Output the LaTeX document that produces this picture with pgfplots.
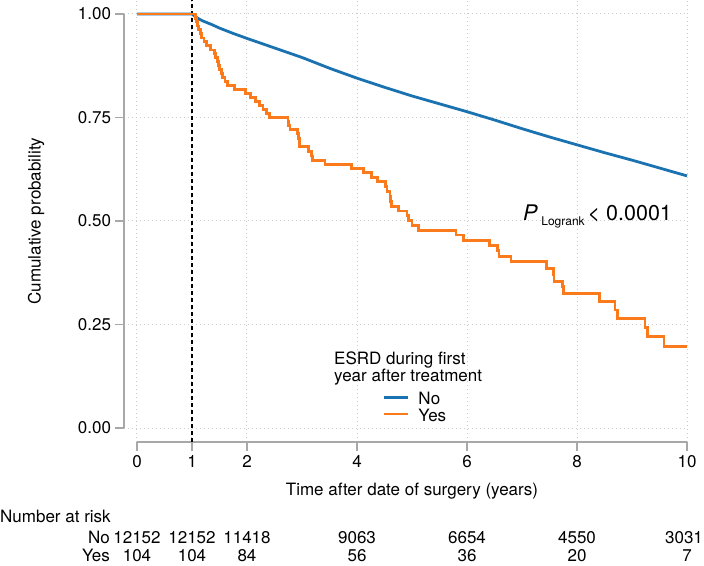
\documentclass[border=0pt]{standalone}
\usepackage{fontspec}
\setmainfont{TeX Gyre Heros}
\usepackage{pgfplots}
\usepackage{pgfplotstable}
\pgfplotsset{compat=1.18}
\definecolor{kmblue}{HTML}{1A72B0}
\definecolor{kmorange}{HTML}{FA7A1C}
\definecolor{axgray}{HTML}{A8A8A8}
\newcommand{\fs}{\fontsize{17}{20}\selectfont}

\pgfplotstableread{
x y
0 1
1 1
1.05 0.995
1.1 0.990
1.2 0.983
1.35 0.975
1.5 0.966
1.75 0.953
2 0.941
2.5 0.918
3 0.895
3.5 0.869
4 0.845
4.5 0.823
5 0.802
5.5 0.783
6 0.764
6.5 0.744
7 0.723
7.5 0.703
8 0.684
8.5 0.665
9 0.647
9.5 0.628
10 0.609
}\noesrd

\pgfplotstableread{
x y
0 1.000
1.06 0.990
1.08 0.981
1.10 0.971
1.12 0.962
1.15 0.952
1.18 0.942
1.22 0.933
1.26 0.923
1.34 0.913
1.41 0.904
1.43 0.894
1.46 0.885
1.48 0.875
1.50 0.865
1.54 0.856
1.56 0.846
1.60 0.837
1.65 0.827
1.77 0.817
1.98 0.808
2.06 0.798
2.15 0.788
2.23 0.779
2.29 0.769
2.36 0.760
2.41 0.750
2.745 0.740
2.76 0.730
2.78 0.721
2.915 0.711
2.94 0.700
2.95 0.690
2.96 0.680
3.115 0.668
3.176 0.657
3.19 0.647
3.418 0.637
3.903 0.626
4.115 0.617
4.27 0.605
4.376 0.595
4.515 0.583
4.545 0.571
4.60 0.559
4.615 0.547
4.63 0.535
4.76 0.524
4.91 0.514
4.94 0.502
5.00 0.490
5.115 0.478
5.80 0.466
5.93 0.452
6.406 0.440
6.55 0.428
6.58 0.414
6.80 0.402
7.45 0.386
7.57 0.370
7.58 0.353
7.73 0.341
7.76 0.324
8.405 0.305
8.69 0.285
8.73 0.265
9.236 0.243
9.28 0.221
9.58 0.196
10 0.196
}\yesesrd

\begin{document}
\begin{tikzpicture}
\path[use as bounding box] (-124pt,-123pt) rectangle (580pt,442pt);
\begin{axis}[
  at={(0pt,0pt)}, anchor=south west,
  scale only axis, width=563pt, height=442pt,
  xmin=-0.23636, xmax=10, ymin=-0.033816, ymax=1.033816,
  clip=false,
  axis x line*=bottom, axis y line*=left,
  axis line style={draw=none},
  xtick={0,1,2,4,6,8,10},
  ytick={0,0.25,0.5,0.75,1},
  yticklabels={0.00,0.25,0.50,0.75,1.00},
  tick align=outside,
  major tick length=9pt,
  tick style={axgray, line width=1.1pt},
  grid=major,
  major grid style={gray!40, line width=1pt, dash pattern=on 1pt off 3pt},
  /pgf/number format/assume math mode=true,
  tick label style={font=\fs},
  xticklabel style={yshift=-0.5pt},
  yticklabel style={xshift=-0.5pt},
  legend style={draw=none, fill=none, at={(0.4529,0.0769)}, anchor=west,
    font=\fs, row sep=0pt,
    nodes={inner sep=0.5pt, text height=12.5pt, text depth=3pt}},
  legend cell align=left,
  legend image code/.code={\draw[#1] (0pt,0.45ex) -- (24pt,0.45ex);},
]
% axis lines
\draw[axgray, line width=1.1pt] (axis cs:-0.23636,0) -- (axis cs:-0.23636,1);
\draw[axgray, line width=1.1pt] (axis cs:0,-0.033816) -- (axis cs:10,-0.033816);
% dashed reference at year 1
\draw[black, line width=1.3pt, dash pattern=on 4pt off 3pt] (axis cs:1,-0.033816) -- (axis cs:1,1.033816);

\addplot[kmblue, line width=2.8pt, line join=round] table[x=x,y=y] {\noesrd};
\addlegendentry{\hspace{9pt}No}
\addplot[kmorange, line width=2.8pt, const plot, line join=miter] table[x=x,y=y] {\yesesrd};
\addlegendentry{\hspace{9pt}Yes}

% legend title
\node[anchor=base west, inner sep=0pt, font=\fs] at (axis cs:3.582,0.1522) {ESRD during first};
\node[anchor=base west, inner sep=0pt, font=\fs] at (axis cs:3.582,0.1119) {year after treatment};

% p-value
\node[anchor=base west, inner sep=0pt] at (axis cs:7.018,0.5024)
  {\fontsize{21.5}{24}\selectfont\textit{P}\hspace{3.5pt}\raisebox{-5pt}{\fontsize{12}{14}\selectfont Logrank}\hspace{3pt}< 0.0001};

% axis titles
\node[rotate=90, anchor=center, font=\fs] at (axis cs:-1.836,0.5) {Cumulative probability};
\node[anchor=base, font=\fs, inner sep=0pt] at (axis cs:5,-0.164) {Time after date of surgery (years)};

% number at risk
\node[anchor=base west, inner sep=0pt, font=\fs] at (axis cs:-2.4909,-0.2283) {Number at risk};
\node[anchor=base east, inner sep=0pt, font=\fs] at (axis cs:-0.491,-0.279) {No};
\node[anchor=base east, inner sep=0pt, font=\fs] at (axis cs:-0.491,-0.3225) {Yes};
\begin{scope}[every node/.style={anchor=base, inner sep=0pt, font=\fs}]
\node at (axis cs:0,-0.279) {12152};
\node at (axis cs:1,-0.279) {12152};
\node at (axis cs:2,-0.279) {11418};
\node at (axis cs:4,-0.279) {9063};
\node at (axis cs:6,-0.279) {6654};
\node at (axis cs:8,-0.279) {4550};
\node[xshift=-3pt] at (axis cs:10,-0.279) {3031};
\node at (axis cs:0,-0.3225) {104};
\node at (axis cs:1,-0.3225) {104};
\node at (axis cs:2,-0.3225) {84};
\node at (axis cs:4,-0.3225) {56};
\node at (axis cs:6,-0.3225) {36};
\node at (axis cs:8,-0.3225) {20};
\node at (axis cs:10,-0.3225) {7};
\end{scope}
\end{axis}
\end{tikzpicture}
\end{document}
